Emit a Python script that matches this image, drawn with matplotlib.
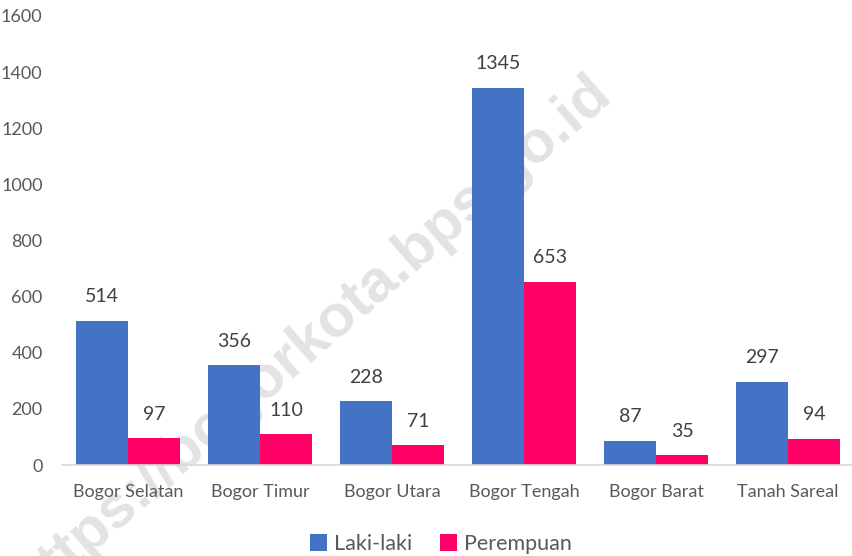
import numpy as np
import matplotlib
matplotlib.use("Agg")
import matplotlib.pyplot as plt

# data
kecamatan = ["Bogor Selatan", "Bogor Timur", "Bogor Utara", "Bogor Tengah", "Bogor Barat", "Tanah Sareal"]
laki = [514, 356, 228, 1345, 87, 297]
perempuan = [97, 110, 71, 653, 35, 94]
yticks = [0, 200, 400, 600, 800, 1000, 1200, 1400, 1600]

plt.rcParams['font.family'] = ['Lato', 'DejaVu Sans']

fig = plt.figure(figsize=(8.52, 5.56), dpi=100)
ax = fig.add_axes([62/852, 91/556, 792/852, 449/556])
ax.set_facecolor('none')

x = np.arange(len(kecamatan))
w = 0.394
b1 = ax.bar(x - w/2, laki, w, color='#4472C4', label='Laki-laki', zorder=2)
b2 = ax.bar(x + w/2, perempuan, w, color='#FF0066', label='Perempuan', zorder=2)

for bars in (b1, b2):
    for r in bars:
        ax.annotate(str(int(r.get_height())), (r.get_x() + r.get_width()/2, r.get_height()),
                    xytext=(0, 11), textcoords='offset points', ha='center', va='bottom',
                    fontsize=14, color='#404040', zorder=3)

ax.set_xlim(-0.5, len(kecamatan) - 0.5)
ax.set_ylim(0, 1600)
ax.set_yticks(yticks)
ax.set_xticks(x)
ax.set_xticklabels(kecamatan)
ax.tick_params(axis='both', length=0, colors='#595959', labelsize=13)
ax.tick_params(axis='y', pad=14)
ax.tick_params(axis='x', pad=14)
for s in ['top', 'right', 'left']:
    ax.spines[s].set_visible(False)
ax.spines['bottom'].set_color('#D9D9D9')
ax.spines['bottom'].set_linewidth(1.2)

# watermark behind the bars
ax.text(312/852, 1 - 339/556, "https://bogorkota.bps.go.id", rotation=41,
        transform=fig.transFigure, ha='center', va='center', fontsize=43,
        fontweight='bold', family='Liberation Sans', color='#E3E3E3',
        zorder=0.5, clip_on=False)

leg = fig.legend(handles=[b1, b2], loc='center', bbox_to_anchor=(441/852, 12/556),
                 ncol=2, frameon=False, fontsize=15.5, handlelength=0.8, handleheight=0.8,
                 handletextpad=0.3, columnspacing=1.3)
for t in leg.get_texts():
    t.set_color('#595959')

fig.savefig("out.png", dpi=100)
